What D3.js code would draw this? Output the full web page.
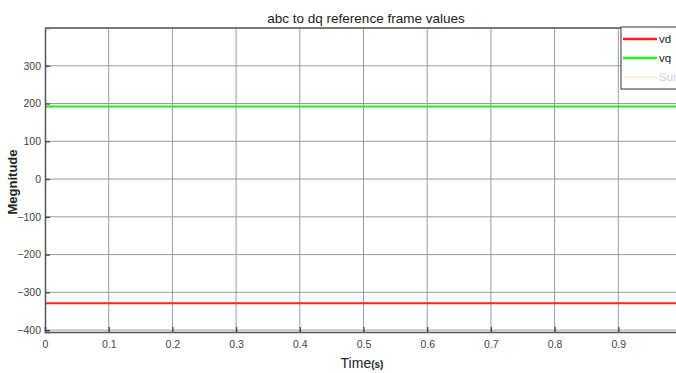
<!DOCTYPE html>
<html><head><meta charset="utf-8">
<script src="https://cdn.jsdelivr.net/npm/d3@7"></script>
<style>
body{margin:0;background:#fff;overflow:hidden}
text{font-family:"Liberation Sans Narrow","Arial Narrow","Liberation Sans",sans-serif}
</style></head>
<body><svg id="c" width="676" height="373"></svg>
<script>
const title = "abc to dq reference frame values";
const xLabel = "Time";
const xLabelUnit = "(s)";
const yLabel = "Megnitude";
const time = [0, 1];
const vd = [-329, -329];
const vq = [192, 192];
const seriesNames = ["vd", "vq", "Sum"];
const seriesColors = ["#ff2020", "#22ee22", "#fdd9b0"];
const xTicks = [0, 0.1, 0.2, 0.3, 0.4, 0.5, 0.6, 0.7, 0.8, 0.9];
const yTicks = [-400, -300, -200, -100, 0, 100, 200, 300];

const svg = d3.select("#c");
const L = 45, R = 682, T = 28, B = 332;
const x = d3.scaleLinear().domain([0, 1]).range([L, R]);
const y = d3.scaleLinear().domain([-405, 400]).range([B, T]);

// grid
svg.append("g").selectAll("line").data(xTicks.slice(1)).join("line")
  .attr("x1", d => x(d)).attr("x2", d => x(d)).attr("y1", T).attr("y2", B)
  .attr("stroke", "#9a9a9a").attr("stroke-width", 1);
svg.append("g").selectAll("line").data(yTicks).join("line")
  .attr("x1", L).attr("x2", R).attr("y1", d => y(d)).attr("y2", d => y(d))
  .attr("stroke", "#9a9a9a").attr("stroke-width", 1);

// lines
const line = d3.line().x(d => x(d[0])).y(d => y(d[1]));
[vd, vq].forEach((s, i) => {
  svg.append("path").datum(time.map((t, j) => [t, s[j]]))
    .attr("d", line).attr("fill", "none")
    .attr("stroke", seriesColors[i]).attr("stroke-width", 2);
});

// axes
const xAxis = d3.axisBottom(x).tickValues(xTicks).tickSize(-5).tickPadding(9).tickFormat(d3.format("~g"));
const gx = svg.append("g").attr("transform", `translate(0,${B})`).call(xAxis);
const yAxis = d3.axisLeft(y).tickValues(yTicks).tickSize(-5).tickPadding(4).tickFormat(d3.format("d"));
const gy = svg.append("g").attr("transform", `translate(${L},0)`).call(yAxis);
[gx, gy].forEach(g => {
  g.select(".domain").attr("stroke", "#555").attr("stroke-width", 1.5);
  g.selectAll(".tick line").attr("stroke", "#444").attr("stroke-width", 1.3);
  g.selectAll(".tick text").attr("fill", "#444").attr("font-size", 10.5)
    .style("font-family", '"Liberation Sans Narrow","Arial Narrow","Liberation Sans",sans-serif');
});
svg.append("line").attr("x1", L).attr("x2", R).attr("y1", T).attr("y2", T)
  .attr("stroke", "#777").attr("stroke-width", 2);

// title
svg.append("text").attr("x", 366).attr("y", 23).attr("text-anchor", "middle")
  .attr("font-size", 13.5).attr("fill", "#222").text(title);

// x label
const xl = svg.append("text").attr("x", 362).attr("y", 368).attr("text-anchor", "middle")
  .attr("font-size", 14).attr("fill", "#222");
xl.append("tspan").text(xLabel);
xl.append("tspan").attr("font-size", 10).attr("font-weight", "bold").text(xLabelUnit);

// y label
svg.append("text").attr("transform", "translate(17,182) rotate(-90)")
  .attr("text-anchor", "middle").attr("font-size", 13).attr("fill", "#222")
  .style("font-family", '"Liberation Sans",sans-serif').attr("font-weight", "bold").text(yLabel);

// legend
const lg = svg.append("g");
lg.append("rect").attr("x", 621).attr("y", 27).attr("width", 70).attr("height", 62)
  .attr("fill", "#fff").attr("stroke", "#555").attr("stroke-width", 1.2);
seriesNames.forEach((n, i) => {
  const yy = 39 + i * 19;
  lg.append("line").attr("x1", 623).attr("x2", 657).attr("y1", yy).attr("y2", yy)
    .attr("stroke", seriesColors[i]).attr("stroke-width", i < 2 ? 2.5 : 1.2);
  lg.append("text").attr("x", 659).attr("y", yy + 4).attr("font-size", 11.5)
    .attr("fill", i < 2 ? "#222" : "#ccc").text(n);
});
</script></body></html>
